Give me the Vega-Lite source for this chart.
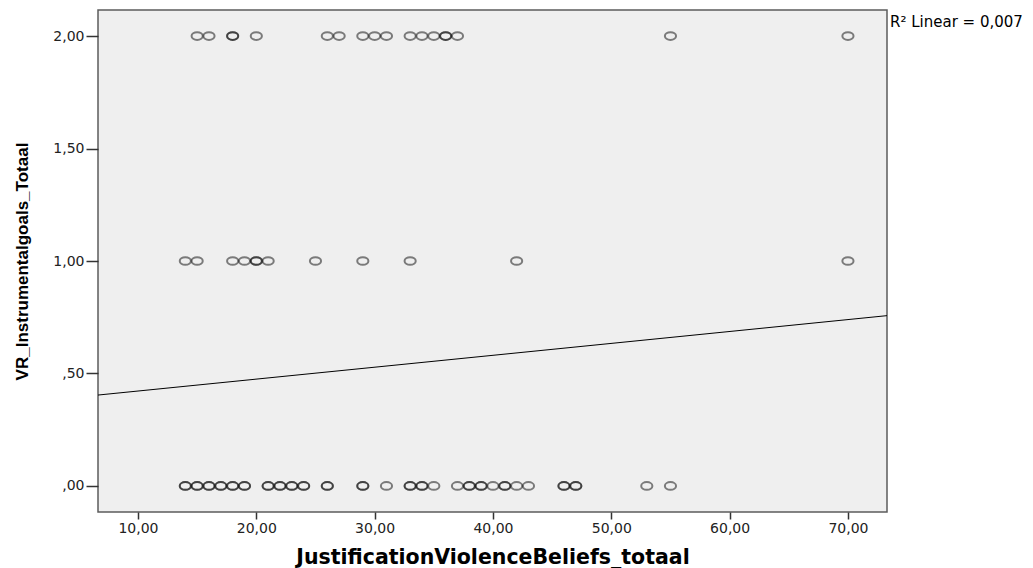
{
  "$schema": "https://vega.github.io/schema/vega-lite/v6.json",
  "width": 789,
  "height": 502,
  "autosize": {"type": "none"},
  "padding": {"left": 98, "top": 10, "right": 146, "bottom": 56},
  "background": "white",
  "config": {
    "view": {"fill": "#efefef", "stroke": "#5c5c5c", "strokeWidth": 1.5}
  },
  "datasets": {
    "points": [
      {"x": 14, "y": 0}, {"x": 14, "y": 0}, {"x": 15, "y": 0}, {"x": 15, "y": 0},
      {"x": 16, "y": 0}, {"x": 16, "y": 0}, {"x": 17, "y": 0}, {"x": 17, "y": 0},
      {"x": 18, "y": 0}, {"x": 18, "y": 0}, {"x": 19, "y": 0}, {"x": 19, "y": 0},
      {"x": 21, "y": 0}, {"x": 21, "y": 0}, {"x": 22, "y": 0}, {"x": 22, "y": 0},
      {"x": 23, "y": 0}, {"x": 23, "y": 0}, {"x": 24, "y": 0}, {"x": 24, "y": 0},
      {"x": 26, "y": 0}, {"x": 26, "y": 0}, {"x": 29, "y": 0}, {"x": 29, "y": 0},
      {"x": 31, "y": 0}, {"x": 33, "y": 0}, {"x": 33, "y": 0}, {"x": 34, "y": 0},
      {"x": 34, "y": 0}, {"x": 35, "y": 0}, {"x": 37, "y": 0}, {"x": 38, "y": 0},
      {"x": 38, "y": 0}, {"x": 39, "y": 0}, {"x": 39, "y": 0}, {"x": 40, "y": 0},
      {"x": 41, "y": 0}, {"x": 41, "y": 0}, {"x": 42, "y": 0}, {"x": 43, "y": 0},
      {"x": 46, "y": 0}, {"x": 46, "y": 0}, {"x": 47, "y": 0}, {"x": 47, "y": 0},
      {"x": 53, "y": 0}, {"x": 55, "y": 0},
      {"x": 14, "y": 1}, {"x": 15, "y": 1}, {"x": 18, "y": 1}, {"x": 19, "y": 1},
      {"x": 20, "y": 1}, {"x": 20, "y": 1}, {"x": 21, "y": 1}, {"x": 25, "y": 1},
      {"x": 29, "y": 1}, {"x": 33, "y": 1}, {"x": 42, "y": 1}, {"x": 70, "y": 1},
      {"x": 15, "y": 2}, {"x": 16, "y": 2}, {"x": 18, "y": 2}, {"x": 18, "y": 2},
      {"x": 20, "y": 2}, {"x": 26, "y": 2}, {"x": 27, "y": 2}, {"x": 29, "y": 2},
      {"x": 30, "y": 2}, {"x": 31, "y": 2}, {"x": 33, "y": 2}, {"x": 34, "y": 2},
      {"x": 35, "y": 2}, {"x": 36, "y": 2}, {"x": 36, "y": 2}, {"x": 37, "y": 2},
      {"x": 55, "y": 2}, {"x": 70, "y": 2}
    ],
    "fit": [
      {"x": 6.62, "y": 0.404},
      {"x": 73.3, "y": 0.757}
    ],
    "label": [
      {"x": 73.3, "y": 2.042, "text": "R² Linear = 0,007"}
    ]
  },
  "encoding": {
    "x": {
      "field": "x",
      "type": "quantitative",
      "scale": {"domain": [6.62, 73.3], "nice": false, "zero": false},
      "axis": {
        "title": "JustificationViolenceBeliefs_totaal",
        "values": [10, 20, 30, 40, 50, 60, 70],
        "labelExpr": "replace(format(datum.value, '.2f'), '.', ',')",
        "domain": false,
        "grid": false,
        "tickSize": 7,
        "tickColor": "#333333",
        "tickWidth": 1.5,
        "labelFont": "DejaVu Sans",
        "labelFontSize": 14,
        "labelColor": "#222222",
        "labelPadding": 2,
        "titleFont": "DejaVu Sans",
        "titleFontWeight": "bold",
        "titleFontSize": 20.5,
        "titleColor": "#000000",
        "titleBaseline": "alphabetic",
        "titleY": 51
      }
    },
    "y": {
      "field": "y",
      "type": "quantitative",
      "scale": {"domain": [-0.116, 2.116], "nice": false, "zero": false},
      "axis": {
        "title": "VR_Instrumentalgoals_Totaal",
        "values": [0, 0.5, 1, 1.5, 2],
        "labelExpr": "datum.value < 1 ? replace(format(datum.value, '.2f'), '0.', ',') : replace(format(datum.value, '.2f'), '.', ',')",
        "domain": false,
        "grid": false,
        "tickSize": 12,
        "tickColor": "#333333",
        "tickWidth": 1.5,
        "labelFont": "DejaVu Sans",
        "labelFontSize": 14,
        "labelColor": "#222222",
        "labelPadding": 2,
        "titleFont": "Liberation Sans",
        "titleFontWeight": "bold",
        "titleFontSize": 17,
        "titleColor": "#000000",
        "titleAngle": -90,
        "titleAlign": "center",
        "titleBaseline": "middle",
        "titleX": -76,
        "titleY": 251
      }
    }
  },
  "layer": [
    {
      "data": {"name": "points"},
      "mark": {
        "type": "point",
        "shape": "M -1 0 A 1 0.68 0 1 0 1 0 A 1 0.68 0 1 0 -1 0 Z",
        "size": 125,
        "filled": false,
        "stroke": "#111111",
        "strokeOpacity": 0.75,
        "strokeWidth": 2
      }
    },
    {
      "data": {"name": "fit"},
      "mark": {"type": "line", "color": "#000000", "strokeWidth": 1, "clip": true}
    },
    {
      "data": {"name": "label"},
      "mark": {
        "type": "text",
        "align": "left",
        "baseline": "alphabetic",
        "dx": 3,
        "font": "DejaVu Sans",
        "fontSize": 15,
        "color": "#000000"
      },
      "encoding": {"text": {"field": "text", "type": "nominal"}}
    }
  ]
}
